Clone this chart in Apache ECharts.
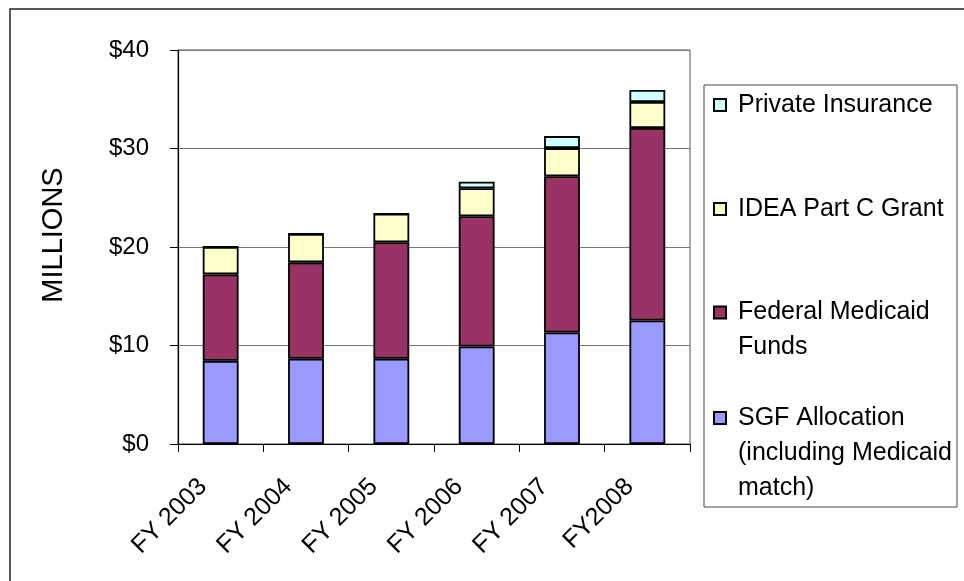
<!DOCTYPE html>
<html>
<head>
<meta charset="utf-8">
<script src="https://cdn.jsdelivr.net/npm/echarts@6/dist/echarts.min.js"></script>
<style>
html,body{margin:0;padding:0;background:#fff;}
#chart{width:964px;height:581px;}
</style>
</head>
<body>
<div id="chart"></div>
<script>
// ---- data ----
var categories = ['FY 2003', 'FY 2004', 'FY 2005', 'FY 2006', 'FY 2007', 'FY2008'];
var sgfAllocation = [8.44, 8.65, 8.65, 9.90, 11.32, 12.54];
var federalMedicaid = [8.78, 9.79, 11.83, 13.22, 15.87, 19.54];
var ideaPartC = [2.78, 2.89, 2.89, 2.85, 2.85, 2.64];
var privateInsurance = [0, 0, 0, 0.65, 1.22, 1.22];
var yTicks = [0, 10, 20, 30, 40];

var seriesNames = ['SGF Allocation\n(including Medicaid\nmatch)', 'Federal Medicaid\nFunds', 'IDEA Part C Grant', 'Private Insurance'];
var seriesColors = ['#9999FF', '#993366', '#FFFFCC', '#CCFFFF'];
var seriesData = [sgfAllocation, federalMedicaid, ideaPartC, privateInsurance];

var FONT = '"Liberation Sans", Arial, sans-serif';

var chart = echarts.init(document.getElementById('chart'), null, {renderer: 'canvas'});

var series = seriesData.map(function (d, i) {
  return {
    name: seriesNames[i],
    type: 'bar',
    stack: 'total',
    barWidth: '42%',
    data: d,
    itemStyle: {color: seriesColors[i], borderColor: '#000', borderWidth: 1.8},
    emphasis: {disabled: true}
  };
});

// legend items: top to bottom (Private, IDEA, Federal, SGF)
var legendIconCenters = [105, 209, 312.5, 418];
var legendOrder = [3, 2, 1, 0];
var LH = 35;
var legends = legendOrder.map(function (si, k) {
  var name = seriesNames[si];
  var lines = name.split('\n').length;
  var blank = lines - 1;               // blank lines above so the icon sits on the first line
  var total = (lines + blank) * LH;
  return {
    data: [name],
    orient: 'vertical',
    left: 713,
    top: legendIconCenters[k] - total / 2,
    padding: 0,
    itemWidth: 12,
    itemHeight: 12,
    icon: 'rect',
    selectedMode: false,
    formatter: function (n) {
      var pre = '';
      for (var j = 0; j < blank; j++) pre += ' \n';
      return pre + n;
    },
    textStyle: {
      fontFamily: FONT, fontSize: 25, color: '#000', lineHeight: LH,
      padding: [0, 0, 0, 7]
    }
  };
});

chart.setOption({
  animation: false,
  backgroundColor: '#fff',
  grid: {left: 178, right: 274, top: 50, bottom: 137, show: true, borderColor: '#555', borderWidth: 1},
  legend: legends,
  xAxis: {
    type: 'category',
    data: categories,
    axisLine: {lineStyle: {color: '#000', width: 1.2}},
    axisTick: {show: true, length: 8, lineStyle: {color: '#000'}},
    axisLabel: {
      rotate: 45, fontFamily: FONT, fontSize: 25, color: '#000',
      margin: 21, padding: [0, 25, 0, 0], interval: 0
    }
  },
  yAxis: {
    type: 'value',
    min: yTicks[0],
    max: yTicks[yTicks.length - 1],
    interval: 10,
    name: 'MILLIONS',
    nameLocation: 'middle',
    nameGap: 110,
    nameRotate: 90,
    nameTextStyle: {fontFamily: FONT, fontSize: 29, color: '#000', padding: [0, 0, 0, 24]},
    axisLine: {show: true, lineStyle: {color: '#000', width: 1.2}},
    axisTick: {show: true, length: 8, lineStyle: {color: '#000'}},
    axisLabel: {
      fontFamily: FONT, fontSize: 24, color: '#000', margin: 29,
      formatter: function (v) { return '$' + v; }
    },
    splitLine: {show: true, lineStyle: {color: '#777', width: 1}}
  },
  graphic: [
    {type: 'rect', shape: {x: 10, y: 9, width: 1000, height: 1000}, style: {fill: 'none', stroke: '#222', lineWidth: 1.5}, silent: true},
    {type: 'rect', shape: {x: 704, y: 85, width: 253, height: 422}, style: {fill: 'none', stroke: '#444', lineWidth: 1}, silent: true}
  ],
  series: series
});
</script>
</body>
</html>
